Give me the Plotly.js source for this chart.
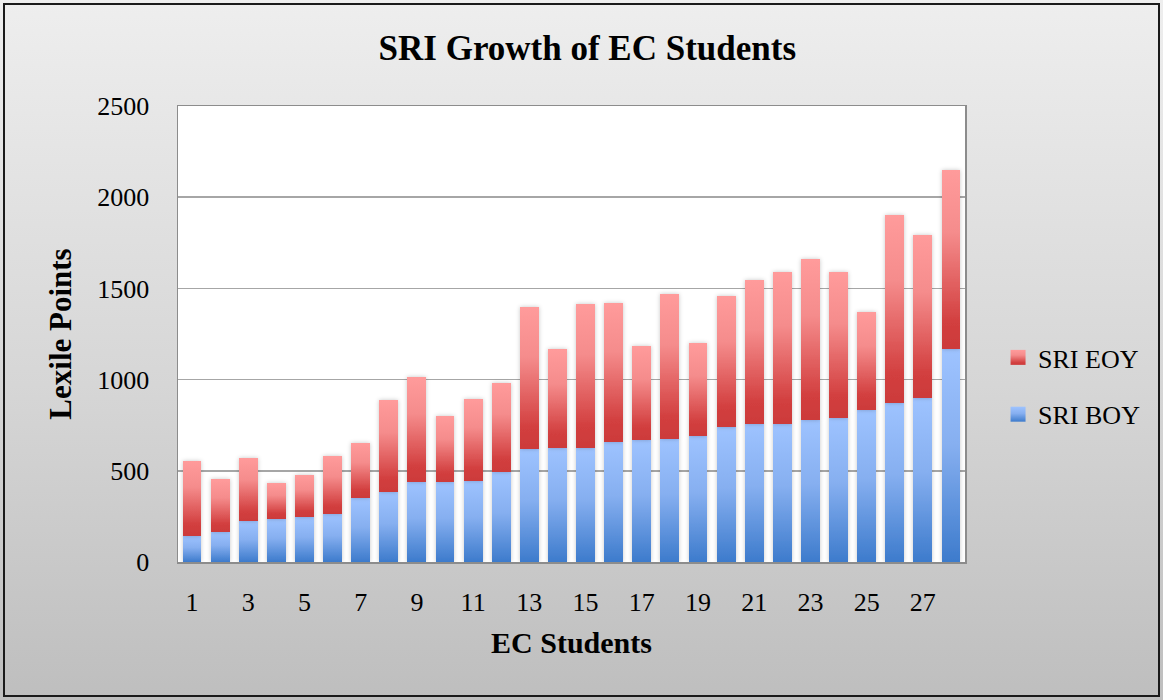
<!DOCTYPE html>
<html>
<head>
<meta charset="utf-8">
<script src="https://cdn.plot.ly/plotly-3.0.1.min.js"></script>
<style>
  html, body { margin: 0; padding: 0; }
  body { width: 1163px; height: 700px; overflow: hidden; position: relative;
         background: linear-gradient(to bottom, #eeeeee 0%, #d6d6d6 55%, #bebebe 100%); }
  #chart { position: absolute; left: 0; top: 0; width: 1163px; height: 700px; }
  #frame { position: absolute; left: 3px; top: 3px; width: 1153px; height: 690px;
           border: 2px solid #1a1a1a; pointer-events: none; }
</style>
</head>
<body>
<div id="chart"></div>
<div id="frame"></div>
<script>
// ---- data ----
const students = [1,2,3,4,5,6,7,8,9,10,11,12,13,14,15,16,17,18,19,20,21,22,23,24,25,26,27,28];
const sriBoy = [144,166,223,237,246,261,349,382,436,436,445,491,619,627,627,658,667,674,691,738,755,755,779,788,833,873,899,1166];
const sriEoy = [411,287,348,197,229,318,301,505,579,365,449,491,777,539,786,764,516,794,508,722,793,833,881,800,539,1031,894,985];
const seriesNames = ['SRI BOY', 'SRI EOY'];
const yTickVals = [0, 500, 1000, 1500, 2000, 2500];

const FONT = 'Liberation Serif, Times New Roman, serif';

const traces = [
  { type: 'bar', name: seriesNames[0], x: students, y: sriBoy,
    marker: { color: '#6a9ee6' }, legendgroup: 'a', legendrank: 2, hoverinfo: 'x+y' },
  { type: 'bar', name: seriesNames[1], x: students, y: sriEoy,
    marker: { color: '#e46a6a' }, legendgroup: 'b', legendrank: 1, hoverinfo: 'x+y' }
];

const layout = {
  width: 1163, height: 700,
  paper_bgcolor: 'rgba(0,0,0,0)',
  plot_bgcolor: '#ffffff',
  barmode: 'stack',
  bargap: 0.33,
  margin: { l: 178, r: 198, t: 106, b: 138 },
  title: { text: '<b>SRI Growth of EC Students</b>', x: 0.505, xanchor: 'center',
           y: 0.932, yanchor: 'middle',
           font: { family: FONT, size: 35, color: '#000' } },
  xaxis: {
    range: [0.5, 28.5], tickmode: 'linear', tick0: 1, dtick: 2,
    showgrid: false, zeroline: false,
    showline: true, mirror: true, linecolor: '#8c8c8c', linewidth: 1.5,
    ticks: '', ticklabelstandoff: 16,
    tickfont: { family: FONT, size: 26, color: '#000' },
    title: { text: '<b>EC Students</b>', standoff: 16,
             font: { family: FONT, size: 30, color: '#000' } }
  },
  yaxis: {
    range: [0, 2500], tickvals: yTickVals,
    showgrid: true, gridcolor: '#a6a6a6', gridwidth: 1.5,
    zeroline: false,
    showline: true, mirror: true, linecolor: '#8c8c8c', linewidth: 1.5,
    ticks: '', ticklabelstandoff: 22,
    tickfont: { family: FONT, size: 26, color: '#000' },
    title: { text: '<b>Lexile Points</b>', standoff: 16,
             font: { family: FONT, size: 31, color: '#000' } }
  },
  legend: {
    x: 1.042, xanchor: 'left', y: 0.386, yanchor: 'middle',
    traceorder: 'grouped', tracegroupgap: 20,
    bgcolor: 'rgba(0,0,0,0)',
    font: { family: FONT, size: 26, color: '#000' }
  },
  showlegend: true
};

function addGradients(gd) {
  const svg = gd.querySelector('svg.main-svg');
  let defs = svg.querySelector('defs');
  const ns = 'http://www.w3.org/2000/svg';
  function grad(id, stops) {
    const g = document.createElementNS(ns, 'linearGradient');
    g.setAttribute('id', id);
    g.setAttribute('x1', '0'); g.setAttribute('y1', '0');
    g.setAttribute('x2', '0'); g.setAttribute('y2', '1');
    stops.forEach(s => {
      const st = document.createElementNS(ns, 'stop');
      st.setAttribute('offset', s[0]);
      st.setAttribute('stop-color', s[1]);
      g.appendChild(st);
    });
    defs.appendChild(g);
  }
  grad('gBoy', [['0', '#9ec3ff'], ['0.45', '#86aff0'], ['1', '#3d7bcc']]);
  grad('gEoy', [['0', '#ff9b9b'], ['0.35', '#f58c8c'], ['0.85', '#d23f3f'], ['1', '#cc3a3a']]);
  const f = document.createElementNS(ns, 'filter');
  f.setAttribute('id', 'barShadow');
  f.setAttribute('x', '-30%'); f.setAttribute('y', '-5%');
  f.setAttribute('width', '160%'); f.setAttribute('height', '110%');
  const ds = document.createElementNS(ns, 'feDropShadow');
  ds.setAttribute('dx', '0'); ds.setAttribute('dy', '0');
  ds.setAttribute('stdDeviation', '2.2');
  ds.setAttribute('flood-color', '#000'); ds.setAttribute('flood-opacity', '0.22');
  f.appendChild(ds);
  defs.appendChild(f);

  const ids = ['gBoy', 'gEoy'];
  const barTraces = gd.querySelectorAll('.barlayer .trace');
  barTraces.forEach((t, i) => {
    t.setAttribute('filter', 'url(#barShadow)');
    t.querySelectorAll('path').forEach(p => { p.style.fill = 'url(#' + ids[i] + ')'; });
  });
  gd.querySelectorAll('.legend .traces').forEach(tr => {
    const name = tr.querySelector('.legendtext').textContent;
    const id = name === seriesNames[0] ? 'gBoy' : 'gEoy';
    tr.querySelectorAll('.legendpoints path').forEach(p => {
      p.style.fill = 'url(#' + id + ')';
      p.setAttribute('d', 'M-7.5,-7.5H7.5V7.5H-7.5Z');
    });
  });
}

Plotly.newPlot('chart', traces, layout, { displayModeBar: false, staticPlot: true })
  .then(gd => addGradients(gd));
</script>
</body>
</html>
